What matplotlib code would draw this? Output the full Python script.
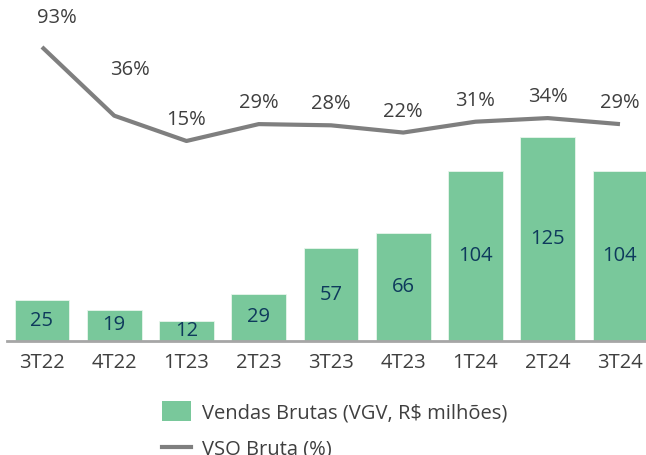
import matplotlib.pyplot as plt
from matplotlib.patches import Patch
from matplotlib.lines import Line2D

plt.rcParams['font.family'] = ['Open Sans', 'DejaVu Sans']

quarters = ["3T22", "4T22", "1T23", "2T23", "3T23", "4T23", "1T24", "2T24", "3T24"]
vendas = [25, 19, 12, 29, 57, 66, 104, 125, 104]
vso = [93, 36, 15, 29, 28, 22, 31, 34, 29]

# label offsets (points) for the line labels
vso_offsets = {0: (11, 21), 1: (11, 33)}

green = "#79c89b"
navy = "#0e3a5c"
gray = "#7f7f7f"
text_gray = "#3f3f3f"
fs = 14.5

fig = plt.figure(figsize=(6.46, 4.55), dpi=100)
ax = fig.add_axes([0, 1 - 341 / 455, 1, 341 / 455])
x = range(len(quarters))

bars = ax.bar(x, vendas, width=0.76, color=green, edgecolor="#e8f5ec", linewidth=0.6, zorder=2)
ax.bar_label(bars, labels=[str(v) for v in vendas], label_type="center", color=navy, fontsize=fs)
ax.set_xlim(-0.581, 8.36)
ax.set_ylim(0, 209)
ax.set_xticks(list(x))
ax.set_xticklabels(quarters, fontsize=fs, color=text_gray)
ax.tick_params(axis="x", length=0, pad=9)
ax.set_yticks([])
for s in ["top", "left", "right"]:
    ax.spines[s].set_visible(False)
ax.spines["bottom"].set_color("#a6a6a6")
ax.spines["bottom"].set_linewidth(2)
ax.spines["bottom"].set_bounds(-0.48, 8.34)

ax2 = ax.twinx()
ax2.plot(x, vso, color=gray, linewidth=3, solid_capstyle="butt", zorder=3)
ax2.set_ylim(-151, 132)
ax2.set_yticks([])
for s in ax2.spines.values():
    s.set_visible(False)
for i, v in enumerate(vso):
    off = vso_offsets.get(i, (0, 15))
    ax2.annotate(f"{v}%", (i, v), xytext=off, textcoords="offset points",
                 ha="center", va="center", fontsize=fs, color=text_gray)

handles = [Patch(facecolor=green, edgecolor="none"),
           Line2D([0], [0], color=gray, linewidth=3)]
fig.legend(handles, ["Vendas Brutas (VGV, R$ milhões)", "VSO Bruta (%)"],
           loc="upper left", bbox_to_anchor=(0.222, 0.158), frameon=False,
           fontsize=fs, labelcolor=text_gray, handlelength=1.45, handleheight=1.15,
           labelspacing=0.75, handletextpad=0.55)

fig.savefig("out.png", dpi=100)
